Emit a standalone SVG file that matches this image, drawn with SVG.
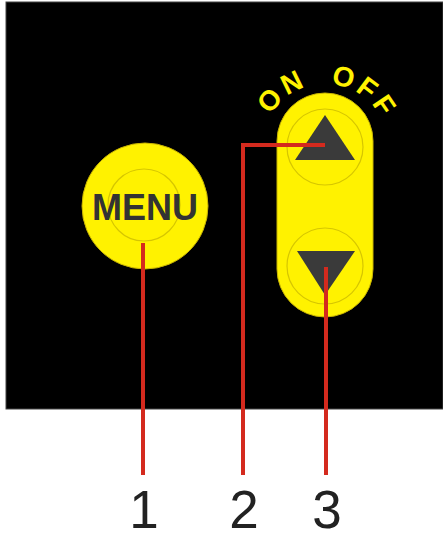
<svg xmlns="http://www.w3.org/2000/svg" width="443" height="533" viewBox="0 0 443 533">
<style>
.btn{fill:#fff200;stroke:#c8b400;stroke-width:1}
.ring{fill:none;stroke:#d6c600;stroke-width:1.2}
.tri{fill:#3a3a3a}
.lead{fill:none;stroke:#d42a1e;stroke-width:4}
.num{font-family:"Liberation Sans",Arial,sans-serif;font-size:53px;fill:#222}
.lbl{font-family:"Liberation Sans",Arial,sans-serif;font-weight:bold;font-size:28px;fill:#fff200;letter-spacing:3.5px}
</style>
<defs>
<path id="arc" d="M 262 147 A 63 63 0 0 1 388 147"/>
</defs>
<rect x="6" y="2" width="437" height="407" fill="#000" stroke="#444" stroke-width="1"/>
<g id="menu">
<circle class="btn" cx="145" cy="206" r="63"/>
<circle class="ring" cx="144" cy="205" r="36"/>
<text x="145" y="220" text-anchor="middle" font-family="'Liberation Sans',Arial,sans-serif" font-weight="bold" font-size="36" fill="#333">MENU</text>
</g>
<g id="updown">
<rect class="btn" x="277" y="93" width="96" height="224" rx="48"/>
<circle class="ring" cx="325" cy="147" r="38"/>
<circle class="ring" cx="325" cy="266" r="38"/>
<polygon class="tri" points="325,115 295,160 355,160"/>
<polygon class="tri" points="297,251 355,251 325,295"/>
</g>
<g id="labels">
<text class="lbl"><textPath href="#arc" startOffset="33">ON</textPath></text>
<text class="lbl"><textPath href="#arc" startOffset="104">OFF</textPath></text>
</g>
<g id="connectors">
<line class="lead" x1="143" y1="243" x2="143" y2="475"/>
<polyline class="lead" points="325,145 243,145 243,475"/>
<line class="lead" x1="326" y1="267" x2="326" y2="475"/>
</g>
<g id="numbers">
<text class="num" x="144" y="528" text-anchor="middle">1</text>
<text class="num" x="244" y="528" text-anchor="middle">2</text>
<text class="num" x="327" y="528" text-anchor="middle">3</text>
</g>
</svg>
